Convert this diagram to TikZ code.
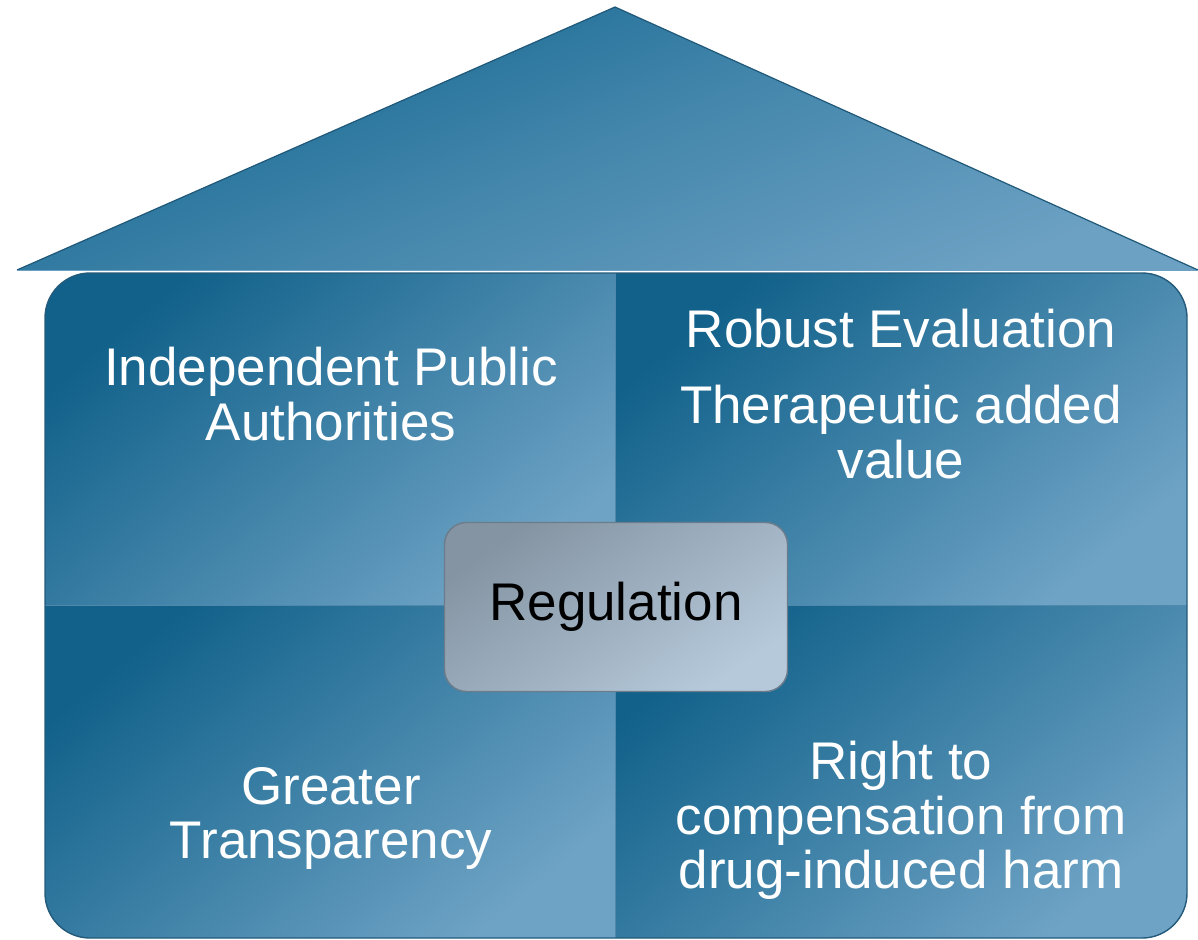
\documentclass[tikz,border=0pt]{standalone}
\usepackage{fontspec}
\setmainfont{Liberation Sans}
\usetikzlibrary{positioning}

\definecolor{roofdark}{HTML}{12658F}
\definecolor{rooflight}{HTML}{6CA1C3}
\definecolor{roofedge}{HTML}{1F5878}
\definecolor{walldark}{HTML}{11618A}
\definecolor{walllight}{HTML}{6EA3C5}
\definecolor{walledge}{HTML}{245A7A}
\definecolor{seam}{HTML}{4F88AB}
\definecolor{hubdark}{HTML}{8494A3}
\definecolor{hublight}{HTML}{B6C9DA}
\definecolor{hubedge}{HTML}{6C7C8A}

\tikzset{
  pane/.style={top color=walldark, bottom color=walllight, middle color=walldark!50!walllight, shading angle=40},
  panetext/.style={text=white, align=center, inner sep=0pt, anchor=north,
    font=\fontsize{53}{54.5}\selectfont},
  hubbox/.style={rounded corners=22pt, draw=hubedge, line width=1.4pt,
    top color=hubdark, bottom color=hublight, shading angle=35,
    minimum width=343pt, minimum height=169pt, font=\fontsize{53}{54.5}\selectfont, text=black}
}

\begin{document}
\begin{tikzpicture}[x=1pt,y=-1pt]
    \useasboundingbox (0,0) rectangle (1198,939);

    % roof
    \shade [top color=roofdark, bottom color=rooflight, middle color=roofdark!45!rooflight, shading angle=22]
        (17,270) -- (615,7) -- (1198,270) -- cycle;
    \draw [roofedge, line width=1.2pt] (17,270) -- (615,7) -- (1198,270);
    \draw [rooflight, line width=1pt] (17,270) -- (1198,270);

    % walls, four panes
    \begin{scope}
        \clip [rounded corners=45pt] (45,273) rectangle (1187,938);
        \shade [pane] (45,273) rectangle (615,605);
        \shade [pane] (615,273) rectangle (1187,605);
        \shade [pane] (45,605) rectangle (615,938);
        \shade [pane] (615,605) rectangle (1187,938);
        \draw [seam, line width=1pt] (615,273) -- (615,938);
        \draw [seam, line width=1pt] (45,605) -- (1187,605);
    \end{scope}
    \draw [walledge, line width=1.4pt, rounded corners=45pt] (45,273) rectangle (1187,938);

    % pane texts
    \node [panetext] (authorities) at (331,347) {Independent Public\\Authorities};
    \node [panetext] (evaluation) at (901,309) {Robust Evaluation};
    \node [panetext] (addedvalue) at (901,385) {Therapeutic added\\value};
    \node [panetext] (transparency) at (331,767) {Greater\\Transparency};
    \node [panetext] (compensation) at (901,741) {Right to\\compensation from\\drug-induced harm};

    % centre
    \node [hubbox] (hub) at (616,607) {Regulation};
\end{tikzpicture}
\end{document}
